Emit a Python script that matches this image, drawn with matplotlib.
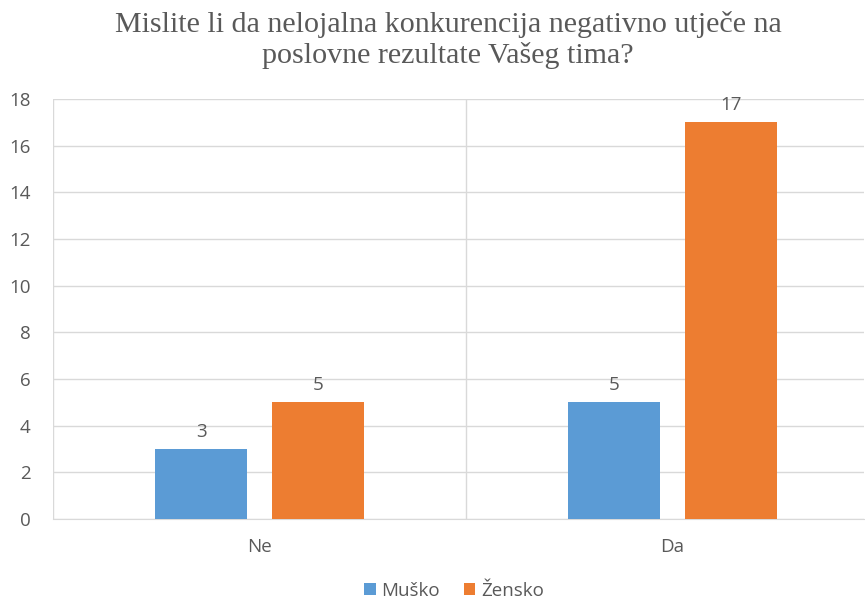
import matplotlib
matplotlib.use("Agg")
import matplotlib.pyplot as plt
import numpy as np

# Data
categories = ["Ne", "Da"]
series_names = ["Muško", "Žensko"]
musko = [3, 5]
zensko = [5, 17]
title = "Mislite li da nelojalna konkurencija negativno utječe na\nposlovne rezultate Vašeg tima?"

BLUE = "#5B9BD5"
ORANGE = "#ED7D31"
GRID = "#D9D9D9"
TEXT = "#595959"
FS = 13.5

W, H = 865, 603
fig = plt.figure(figsize=(W / 100, H / 100), dpi=100)

# plot area in pixels: left 53, right 864, top 99, bottom 519
left, right, top, bottom = 53, 864, 99, 519
ax = fig.add_axes([left / W, 1 - bottom / H, (right - left) / W, (bottom - top) / H])

x = np.arange(len(categories))
bw = 0.223
off = 0.1415
b1 = ax.bar(x - off, musko, bw, color=BLUE, label=series_names[0], zorder=3)
b2 = ax.bar(x + off, zensko, bw, color=ORANGE, label=series_names[1], zorder=3)

for bars in (b1, b2):
    for r in bars:
        ax.annotate(str(int(r.get_height())), (r.get_x() + r.get_width() / 2, r.get_height()),
                    xytext=(0, 6), textcoords="offset points", ha="center", va="bottom",
                    fontsize=FS, color=TEXT, family="Open Sans")

cat_w = 413.0
ax.set_xlim(-0.5, -0.5 + (right - left) / cat_w)
ax.set_ylim(0, 18)
ax.set_yticks(range(0, 19, 2))
ax.yaxis.grid(True, color=GRID, linewidth=1, zorder=0)
ax.axvline(0.5, color=GRID, linewidth=1, zorder=0)
ax.axvline(-0.5, color=GRID, linewidth=1, zorder=0)

ax.set_xticks(x)
ax.set_xticklabels(categories)
ax.tick_params(axis="both", length=0, colors=TEXT, labelsize=FS)
ax.tick_params(axis="x", pad=14)
ax.tick_params(axis="y", pad=16)
for lab in ax.get_xticklabels() + ax.get_yticklabels():
    lab.set_family("Open Sans")

for s in ("top", "right", "left"):
    ax.spines[s].set_visible(False)
ax.spines["bottom"].set_color(GRID)

fig.text(448 / W, 1 - 40 / H, title, ha="center", va="center", fontsize=21.6,
         family="Liberation Serif", color=TEXT, linespacing=1.17)

leg = fig.legend(loc="center", bbox_to_anchor=(0.525, 1 - 591 / H), ncol=2, frameon=False,
                 handlelength=0.6, handleheight=0.6, handletextpad=0.3,
                 columnspacing=1.3, prop={"family": "Open Sans", "size": FS})
for t in leg.get_texts():
    t.set_color(TEXT)

fig.savefig("out.png", dpi=100)
